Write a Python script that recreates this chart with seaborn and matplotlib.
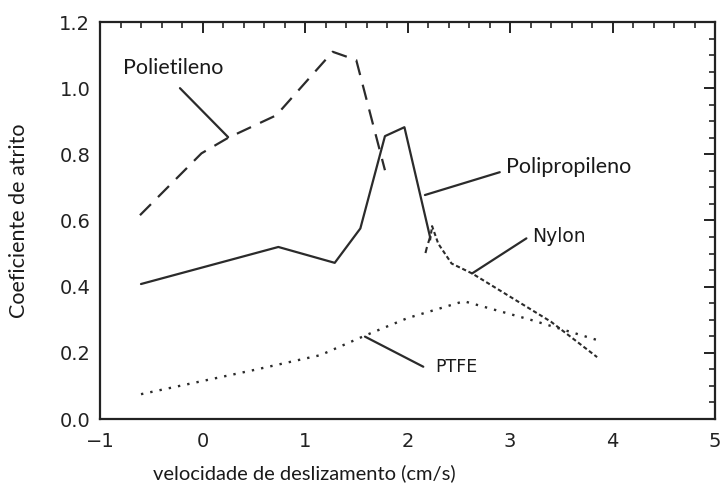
import matplotlib
matplotlib.use("Agg")
import matplotlib.pyplot as plt
import seaborn as sns
import pandas as pd
from matplotlib.ticker import MultipleLocator

# ---- data ----
polietileno_x = [-0.61, -0.01, 0.25, 0.72, 1.27, 1.50, 1.78]
polietileno_y = [0.616, 0.803, 0.850, 0.918, 1.110, 1.085, 0.752]

polipropileno_x = [-0.60, 0.74, 1.29, 1.54, 1.78, 1.97, 2.22]
polipropileno_y = [0.408, 0.520, 0.472, 0.576, 0.855, 0.882, 0.550]

polipropileno_tail_x = [2.22, 2.19, 2.17]
polipropileno_tail_y = [0.550, 0.520, 0.495]

nylon_x = [2.22, 2.24, 2.30, 2.43, 2.63, 3.40, 3.85]
nylon_y = [0.540, 0.583, 0.530, 0.470, 0.440, 0.294, 0.187]

ptfe_x = [-0.60, 0.50, 1.15, 1.60, 2.00, 2.55, 3.20, 3.90]
ptfe_y = [0.075, 0.148, 0.193, 0.254, 0.305, 0.356, 0.300, 0.234]

x_ticks = [-1, 0, 1, 2, 3, 4, 5]
x_tick_labels = ["\u22121", "0", "1", "2", "3", "4", "5"]
y_ticks = [0.0, 0.2, 0.4, 0.6, 0.8, 1.0, 1.2]
y_tick_labels = ["0.0", "0.2", "0.4", "0.6", "0.8", "1.0", "1.2"]

xlabel = "velocidade de deslizamento (cm/s)"
ylabel = "Coeficiente de atrito"

sns.set_style("white")
plt.rcParams["font.family"] = ["DejaVu Sans"]

fig = plt.figure(figsize=(7.21, 4.86), dpi=100)
ax = fig.add_axes([100 / 721, 1 - 419 / 486, 615 / 721, 397 / 486])

lc = "#2b2b2b"
lato = ["Lato", "DejaVu Sans"]

sns.lineplot(x="x", y="y", data=pd.DataFrame({"x": polietileno_x, "y": polietileno_y}),
             ax=ax, color=lc, lw=1.6, sort=False, estimator=None,
             linestyle=(0, (7, 4.5)))
sns.lineplot(x="x", y="y", data=pd.DataFrame({"x": polipropileno_x, "y": polipropileno_y}),
             ax=ax, color=lc, lw=1.6, sort=False, estimator=None)
sns.lineplot(x="x", y="y", data=pd.DataFrame({"x": polipropileno_tail_x, "y": polipropileno_tail_y}),
             ax=ax, color=lc, lw=1.5, sort=False, estimator=None, linestyle=(0, (3, 2)))
sns.lineplot(x="x", y="y", data=pd.DataFrame({"x": nylon_x, "y": nylon_y}),
             ax=ax, color=lc, lw=1.5, sort=False, estimator=None, linestyle=(0, (2, 1.3)))
sns.lineplot(x="x", y="y", data=pd.DataFrame({"x": ptfe_x, "y": ptfe_y}),
             ax=ax, color=lc, lw=1.7, sort=False, estimator=None, linestyle=(0, (1, 3.0)))

ax.set_xlim(-1, 5)
ax.set_ylim(0, 1.2)
ax.set_xticks(x_ticks)
ax.set_xticklabels(x_tick_labels)
ax.set_yticks(y_ticks)
ax.set_yticklabels(y_tick_labels)
ax.xaxis.set_minor_locator(MultipleLocator(0.2))
ax.yaxis.set_minor_locator(MultipleLocator(0.05))
ax.tick_params(which="major", direction="in", length=8, width=1.4, top=True, right=True,
               labelsize=14, colors="#222222")
ax.tick_params(axis="x", which="major", pad=9)
ax.tick_params(axis="y", which="major", pad=7)
ax.tick_params(which="minor", direction="in", length=4.5, width=1.2, top=True, right=True)
for s in ax.spines.values():
    s.set_color("#222222")
    s.set_linewidth(1.6)

ax.set_xlabel(xlabel, fontsize=14.5, family=lato, color="#1a1a1a")
ax.xaxis.set_label_coords(0.333, -0.115)
ax.set_ylabel(ylabel, fontsize=15.5, family=lato, color="#1a1a1a")
ax.yaxis.set_label_coords(-0.115, 0.5)

# labels with leader lines
lead = dict(arrowstyle="-", color=lc, lw=1.6, shrinkA=0, shrinkB=0)
ax.text(-0.776, 1.06, "Polietileno", ha="left", va="center", fontsize=15.5,
        family=lato, color="#1a1a1a")
ax.annotate("", xy=(0.25, 0.852), xytext=(-0.22, 1.0), arrowprops=lead)

ax.text(2.96, 0.762, "Polipropileno", ha="left", va="center", fontsize=15.5,
        family=lato, color="#1a1a1a")
ax.annotate("", xy=(2.17, 0.677), xytext=(2.90, 0.746), arrowprops=lead)

ax.text(3.22, 0.551, "Nylon", ha="left", va="center", fontsize=13.5, color="#1a1a1a")
ax.annotate("", xy=(2.63, 0.44), xytext=(3.16, 0.546), arrowprops=lead)

ax.text(2.27, 0.158, "PTFE", ha="left", va="center", fontsize=12.5, color="#1a1a1a")
ax.annotate("", xy=(1.585, 0.249), xytext=(2.154, 0.158), arrowprops=lead)

fig.savefig("out.png", dpi=100)
